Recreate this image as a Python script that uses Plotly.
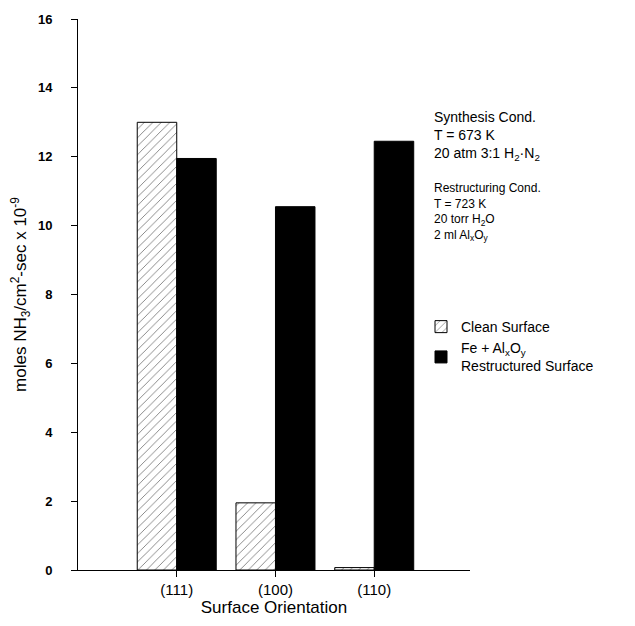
import plotly.graph_objects as go

categories = ["(111)", "(100)", "(110)"]
clean_surface = [13.0, 1.95, 0.07]
restructured_surface = [11.95, 10.55, 12.45]
y_ticks = [0, 2, 4, 6, 8, 10, 12, 14, 16]

FONT = "Liberation Sans, Arial, sans-serif"

fig = go.Figure()
fig.add_trace(go.Bar(
    x=categories, y=clean_surface, name="Clean Surface",
    marker=dict(color="white", line=dict(color="black", width=1),
                pattern=dict(shape="/", fgcolor="black", bgcolor="white", size=6, solidity=0.15)),
))
fig.add_trace(go.Bar(
    x=categories, y=restructured_surface,
    name="Fe + Al<sub>x</sub>O<sub>y</sub><br>Restructured Surface",
    marker=dict(color="black", line=dict(color="black", width=1)),
))

fig.update_layout(
    width=635, height=626,
    margin=dict(l=78, r=165, t=17, b=55),
    paper_bgcolor="white", plot_bgcolor="white",
    barmode="group", bargap=0.2, bargroupgap=0,
    font=dict(family=FONT, color="black", size=13),
    showlegend=True,
    legend=dict(x=0.875, y=0.47, xanchor="left", yanchor="top",
                font=dict(size=14, family=FONT), bgcolor="rgba(0,0,0,0)",
                tracegroupgap=2, itemwidth=30),
    xaxis=dict(range=[-1.0, 2.97], showline=True, linecolor="black", linewidth=1,
               ticks="outside", ticklen=6, tickcolor="black",
               tickfont=dict(size=15, family=FONT),
               title=dict(text="Surface Orientation", font=dict(size=17, family=FONT), standoff=4),
               showgrid=False, zeroline=False),
    yaxis=dict(range=[0, 16], tickvals=y_ticks, showline=True, linecolor="black", linewidth=1,
               ticks="outside", ticklen=6, tickcolor="black", ticklabelstandoff=16,
               tickfont=dict(size=13, family=FONT, weight="bold"),
               title=dict(text="moles NH<sub>3</sub>/cm<sup>2</sup>-sec x 10<sup>-9</sup>",
                          font=dict(size=17, family=FONT), standoff=6),
               showgrid=False, zeroline=False),
)

fig.add_annotation(
    xref="paper", yref="paper", x=0.903, y=0.84, xanchor="left", yanchor="top",
    align="left", showarrow=False, font=dict(size=14, family=FONT),
    text="Synthesis Cond.<br>T = 673 K<br>20 atm 3:1 H<sub>2</sub>·N<sub>2</sub>",
)
fig.add_annotation(
    xref="paper", yref="paper", x=0.903, y=0.71, xanchor="left", yanchor="top",
    align="left", showarrow=False, font=dict(size=12, family=FONT),
    text="Restructuring Cond.<br>T = 723 K<br>20 torr H<sub>2</sub>O<br>2 ml Al<sub>x</sub>O<sub>y</sub>",
)

fig.write_html("out.html")
